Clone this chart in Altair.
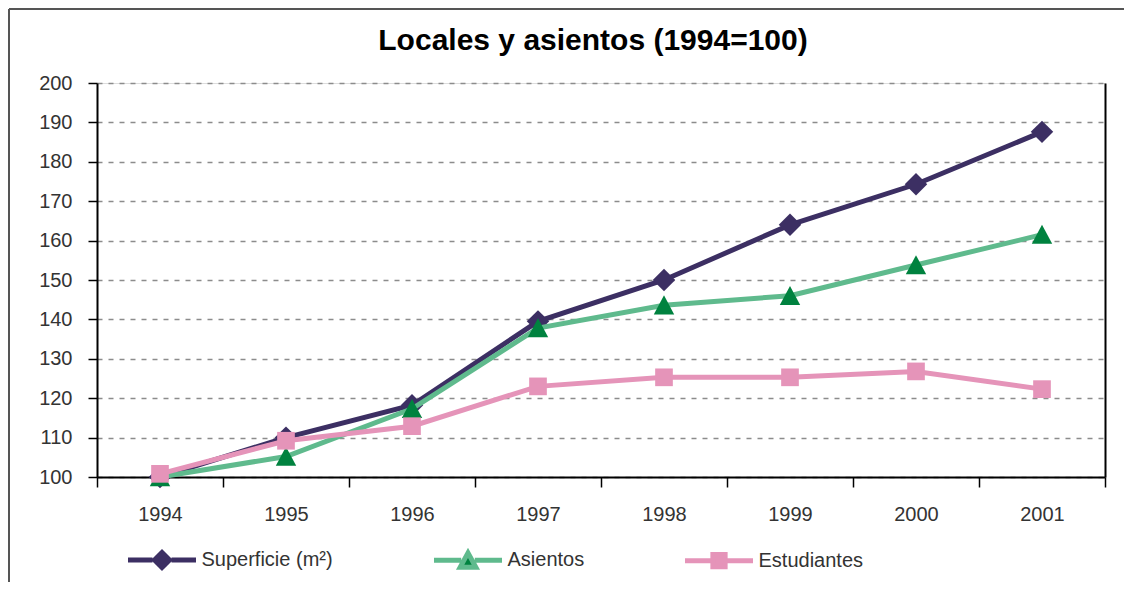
import altair as alt
import pandas as pd

# ---- data ----
years = ["1994", "1995", "1996", "1997", "1998", "1999", "2000", "2001"]
superficie = [100, 110, 118.2, 139.5, 150, 164, 174.3, 187.6]
asientos = [100, 105.2, 117.3, 137.8, 143.6, 146, 153.8, 161.5]
estudiantes = [100.8, 109.2, 112.9, 123, 125.3, 125.3, 126.8, 122.3]
series = ["Superficie (m²)", "Asientos", "Estudiantes"]
marker_keys = ["m0", "m1", "m2"]
y_ticks = [100, 110, 120, 130, 140, 150, 160, 170, 180, 190, 200]

# ---- styles ----
line_colors = ["#3c2f63", "#5fba8d", "#e594b9"]
marker_colors = ["#3c2f63", "#00823f", "#e594b9"]
# marker paths in the unit box (-1..1); the point size sets the box
marker_paths = [
    "M0,-0.33L0.33,0L0,0.33L-0.33,0Z",
    "M0,-0.29L0.3,0.27L-0.3,0.27Z",
    "M-0.26,-0.26L0.26,-0.26L0.26,0.26L-0.26,0.26Z",
]
# legend symbols: line stub + marker (marker is stroked in the line colour)
legend_paths = [
    "M-1,0L-0.28,0M0.28,0L1,0M0,-0.22L0.22,0L0,0.22L-0.22,0Z",
    "M-1,0L-0.2,0M0.2,0L1,0M0,-0.22L0.23,0.2L-0.23,0.2Z",
    "M-1,0L-0.25,0M0.25,0L1,0M-0.18,-0.18L0.18,-0.18L0.18,0.18L-0.18,0.18Z",
]
BOX = 4624  # 68px symbol box
FONT = "Liberation Sans, sans-serif"
TFONT = "Liberation Sans, sans-serif"
LFS = 20

rows = []
for name, key, vals in zip(series, marker_keys, [superficie, asientos, estudiantes]):
    for yr, v in zip(years, vals):
        rows.append({"year": yr, "value": v, "serie": name, "marca": key})
df = pd.DataFrame(rows)


def by_value(options):
    parts = [f"datum.value == '{s}' ? '{o}'" for s, o in zip(series[:-1], options[:-1])]
    return " : ".join(parts) + f" : '{options[-1]}'"


x_enc = alt.X(
    "year:N",
    sort=years,
    bandPosition=0.5,
    scale=alt.Scale(type="band", paddingInner=0, paddingOuter=0),
    axis=alt.Axis(
        title=None, tickBand="extent", labelAngle=0,
        domainColor="#000", domainWidth=2,
        tickColor="#000", tickWidth=1.5, tickSize=10,
        labelFont=FONT, labelFontSize=LFS, labelColor="#333",
        labelPadding=17, grid=False,
    ),
)

y_scale = alt.Scale(domain=[100, 200], nice=False, zero=False)
left_axis = alt.Axis(
    title=None, values=y_ticks, grid=True, gridColor="#8c8c8c",
    gridDash=[5, 6], gridWidth=1.3,
    domainColor="#000", domainWidth=2,
    tickColor="#000", tickWidth=1.5, tickSize=9,
    labelFont=FONT, labelFontSize=LFS, labelColor="#333", labelPadding=16,
)
right_axis = alt.Axis(
    title=None, orient="right", grid=False, ticks=False, labels=False,
    domainColor="#000", domainWidth=2,
)

line_legend = alt.Legend(
    title=None, orient="none", direction="horizontal", columns=3,
    gridAlign="each", columnPadding=90, padding=0,
    legendX=28.5, legendY=440.5,
    symbolSize=BOX, symbolStrokeWidth=5, symbolOpacity=1,
    symbolType={"expr": by_value(legend_paths)},
    symbolFillColor={"expr": by_value(marker_colors)},
    labelFont=FONT, labelFontSize=LFS, labelColor="#333",
    labelOffset=3, labelLimit=600,
)

color_enc = alt.Color(
    "serie:N", scale=alt.Scale(domain=series, range=line_colors),
    legend=line_legend,
)
fill_enc = alt.Fill(
    "marca:N", scale=alt.Scale(domain=marker_keys, range=marker_colors), legend=None,
)
shape_enc = alt.Shape(
    "marca:N", scale=alt.Scale(domain=marker_keys, range=marker_paths), legend=None,
)

base = alt.Chart(df)
layers = []
for i, name in enumerate(series):
    sub = base.transform_filter(alt.datum.serie == name)
    line_axis = left_axis if i == 0 else None
    pt_axis = right_axis if i == 0 else None
    layers.append(
        sub.mark_line(strokeWidth=5).encode(
            x=x_enc,
            y=alt.Y("value:Q", scale=y_scale, axis=line_axis),
            color=color_enc,
        )
    )
    layers.append(
        sub.mark_point(filled=True, size=BOX, opacity=1, strokeWidth=0).encode(
            x=x_enc,
            y=alt.Y("value:Q", scale=y_scale, axis=pt_axis),
            fill=fill_enc,
            shape=shape_enc,
        )
    )

# outer frame of the chart (top and left edges)
frame_df = pd.DataFrame({"k": [0]})
frame = alt.Chart(frame_df)
layers.append(
    frame.mark_rule(color="#555", strokeWidth=2).encode(
        x=alt.value(-88), x2=alt.value(1030), y=alt.value(-74)
    )
)
layers.append(
    frame.mark_rule(color="#555", strokeWidth=2).encode(
        x=alt.value(-88), y=alt.value(-74), y2=alt.value(500)
    )
)

chart = (
    alt.layer(*layers)
    .resolve_axis(y="independent")
    .properties(
        width=1008,
        height=394,
        autosize=alt.AutoSizeParams(type="none"),
        padding={"left": 89, "top": 75, "right": 19, "bottom": 105},
        title=alt.TitleParams(
            "Locales y asientos (1994=100)",
            font=TFONT, fontSize=30, fontWeight="bold", color="#000",
            anchor="middle", frame="group", baseline="alphabetic",
            offset=-72, dx=-8,
        ),
    )
    .configure_view(stroke=None)
    .configure(background="#ffffff")
)

chart.save("out.html", embed_options={"renderer": "svg", "actions": False})
